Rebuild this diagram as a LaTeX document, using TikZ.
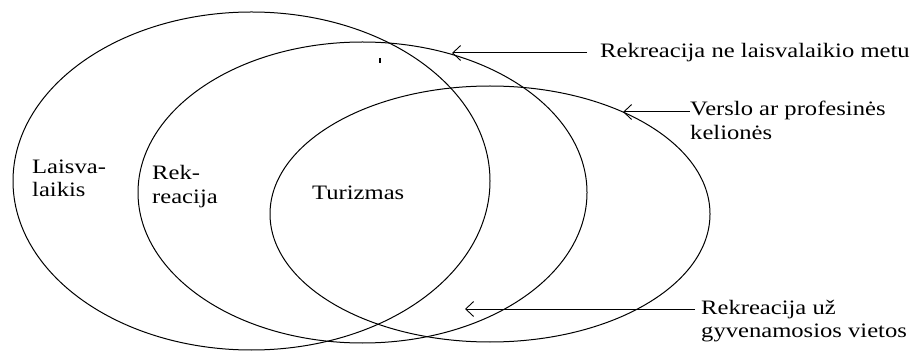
\documentclass[tikz,border=0pt]{standalone}
\usepackage{fontspec}
\setmainfont{Liberation Serif}[FakeStretch=1.2]
\usetikzlibrary{shapes.geometric,arrows.meta}
\begin{document}
\begin{tikzpicture}[x=1pt,y=-1pt,
  ring/.style={draw,ellipse,line width=1pt,inner sep=0pt},
  lab/.style={inner sep=0pt,anchor=base west,align=left,font=\fontsize{20.5}{23.5}\selectfont},
  arr/.style={line width=1pt,-{Straight Barb[length=8pt,width=15pt,line width=0.9pt]}}]
\useasboundingbox (0,0) rectangle (917,352);
\node[ring,minimum width=477pt,minimum height=338pt] (e1) at (251.5,181) {};
\node[ring,minimum width=449pt,minimum height=301pt] (e2) at (362.5,192.5) {};
\node[ring,minimum width=440pt,minimum height=256pt] (e3) at (490,214) {};
\node[lab] (l1) at (32,197) {Laisva-\\laikis};
\node[lab] (l2) at (152,203.5) {Rek-\\reacija};
\node[lab] (l3) at (312,200) {Turizmas};
\node[lab] (t1) at (600,58) {Rekreacija ne laisvalaikio metu};
\node[lab] (t2) at (690,139.5) {Verslo ar profesinės\\kelionės};
\node[lab] (t3) at (701,337.5) {Rekreacija už\\gyvenamosios vietos};
\coordinate (p1) at (452,53);
\coordinate (p2) at (623,112);
\coordinate (p3) at (465,309);
\coordinate (s1) at (587,53);
\draw[arr] (s1) -- (p1);
\draw[arr] (t2.west |- p2) -- (p2);
\draw[arr] ([xshift=-6pt]t3.west |- p3) -- (p3);
\coordinate (m1) at (380,58);
\coordinate (m2) at (380,63);
\draw[line width=1.2pt] (m1) -- (m2);
\end{tikzpicture}
\end{document}
